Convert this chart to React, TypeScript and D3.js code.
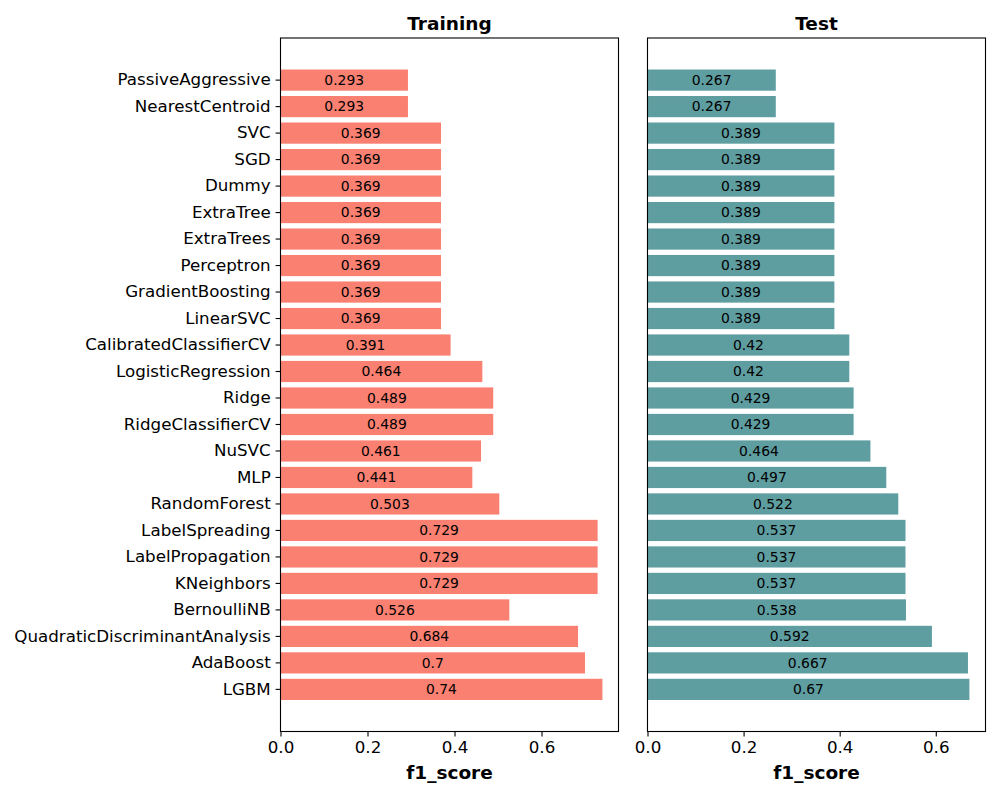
import React, { useEffect, useRef } from 'react';
import * as d3 from 'd3';

// models listed top to bottom
const models = [
  'PassiveAggressive', 'NearestCentroid', 'SVC', 'SGD', 'Dummy', 'ExtraTree',
  'ExtraTrees', 'Perceptron', 'GradientBoosting', 'LinearSVC',
  'CalibratedClassifierCV', 'LogisticRegression', 'Ridge', 'RidgeClassifierCV',
  'NuSVC', 'MLP', 'RandomForest', 'LabelSpreading', 'LabelPropagation',
  'KNeighbors', 'BernoulliNB', 'QuadraticDiscriminantAnalysis', 'AdaBoost', 'LGBM',
];

const trainScores = [
  0.293, 0.293, 0.369, 0.369, 0.369, 0.369, 0.369, 0.369, 0.369, 0.369,
  0.391, 0.464, 0.489, 0.489, 0.461, 0.441, 0.503, 0.729, 0.729, 0.729,
  0.526, 0.684, 0.7, 0.74,
];

const testScores = [
  0.267, 0.267, 0.389, 0.389, 0.389, 0.389, 0.389, 0.389, 0.389, 0.389,
  0.42, 0.42, 0.429, 0.429, 0.464, 0.497, 0.522, 0.537, 0.537, 0.537,
  0.538, 0.592, 0.667, 0.67,
];

const xTicks = [0, 0.2, 0.4, 0.6];

const W = 1000;
const H = 800;
const TOP = 38;
const BOTTOM = 731.5;
const FONT = '"DejaVu Sans", sans-serif';

export default function App() {
  const ref = useRef<SVGSVGElement>(null);

  useEffect(() => {
    document.body.style.margin = '0';
    const svg = d3.select(ref.current);
    svg.selectAll('*').remove();

    const y = d3.scaleBand<string>()
      .domain(models)
      .range([TOP, BOTTOM])
      .paddingInner(0.2)
      .paddingOuter(1.19);

    const panel = (
      title: string,
      scores: number[],
      color: string,
      x0: number,
      x1: number,
      showY: boolean,
    ) => {
      const g = svg.append('g');
      const x = d3.scaleLinear()
        .domain([0, (d3.max(scores) as number) * 1.05])
        .range([x0, x1]);

      g.selectAll('rect.bar')
        .data(scores)
        .enter()
        .append('rect')
        .attr('class', 'bar')
        .attr('x', x(0))
        .attr('y', (d, i) => y(models[i]) as number)
        .attr('width', d => x(d) - x(0))
        .attr('height', y.bandwidth())
        .attr('fill', color);

      g.selectAll('text.val')
        .data(scores)
        .enter()
        .append('text')
        .attr('class', 'val')
        .attr('x', d => x(d / 2))
        .attr('y', (d, i) => (y(models[i]) as number) + y.bandwidth() / 2)
        .attr('dy', '0.35em')
        .attr('text-anchor', 'middle')
        .attr('font-family', FONT)
        .attr('font-size', 13.9)
        .attr('fill', '#000')
        .text(d => String(d));

      // frame
      g.append('rect')
        .attr('x', x0)
        .attr('y', TOP)
        .attr('width', x1 - x0)
        .attr('height', BOTTOM - TOP)
        .attr('fill', 'none')
        .attr('stroke', '#000')
        .attr('stroke-width', 1.1);

      const xAxis = g.append('g')
        .attr('transform', `translate(0,${BOTTOM})`)
        .call(d3.axisBottom(x).tickValues(xTicks).tickFormat(d3.format('.1f')).tickSize(4.9).tickPadding(4.9));
      xAxis.select('.domain').remove();
      xAxis.selectAll('line').attr('stroke', '#000').attr('stroke-width', 1.1);
      xAxis.selectAll('text')
        .attr('font-family', FONT)
        .attr('font-size', 16.7)
        .attr('fill', '#000');

      if (showY) {
        const yAxis = g.append('g')
          .attr('transform', `translate(${x0},0)`)
          .call(d3.axisLeft(y).tickSize(4.9).tickPadding(4.9));
        yAxis.select('.domain').remove();
        yAxis.selectAll('line').attr('stroke', '#000').attr('stroke-width', 1.1);
        yAxis.selectAll('text')
          .attr('font-family', FONT)
          .attr('font-size', 16.7)
          .attr('fill', '#000');
      }

      g.append('text')
        .attr('x', (x0 + x1) / 2)
        .attr('y', 30)
        .attr('text-anchor', 'middle')
        .attr('font-family', FONT)
        .attr('font-weight', 'bold')
        .attr('font-size', 18.5)
        .text(title);

      g.append('text')
        .attr('x', (x0 + x1) / 2)
        .attr('y', 779)
        .attr('text-anchor', 'middle')
        .attr('font-family', FONT)
        .attr('font-weight', 'bold')
        .attr('font-size', 18.5)
        .text('f1_score');
    };

    panel('Training', trainScores, '#FA8072', 280.5, 618.5, true);
    panel('Test', testScores, '#5F9EA0', 647.5, 985.5, false);
  }, []);

  return <svg ref={ref} width={W} height={H} style={{ display: 'block', background: '#fff' }} />;
}
